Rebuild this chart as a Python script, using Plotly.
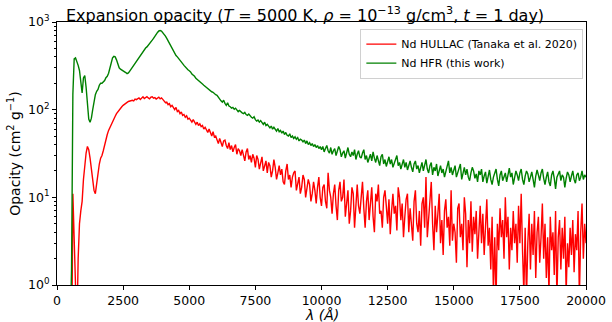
import plotly.graph_objects as go

# wavelength grid (Angstrom), 50 A spacing from 500 to 20000
lam_start = 500
lam_step = 50

# Nd HFR (this work) opacity, cm^2/g  -- 10 values per line, line start wavelength in comment
hfr = [
    0.3, 1.5, 150, 380, 390, 360, 320, 280, 200, 155,        # 500
    230, 245, 180, 110, 78, 72, 80, 100, 125, 148,           # 1000
    162, 170, 190, 200, 200, 205, 215, 232, 240, 260,        # 1500
    300, 350, 390, 405, 400, 370, 330, 300, 290, 285,        # 2000
    280, 270, 265, 258, 262, 275, 290, 305, 320, 340,        # 2500
    360, 380, 400, 420, 445, 470, 490, 505, 520, 540,        # 3000
    560, 590, 620, 650, 690, 720, 760, 790, 800, 790,        # 3500
    760, 720, 690, 650, 610, 560, 520, 490, 460, 435,        # 4000
    415, 400, 385, 370, 350, 335, 320, 305, 295, 285,        # 4500
    278, 270, 255, 248, 240, 228, 220, 214, 210, 202,        # 5000
    196, 190, 184, 178, 176, 170, 166, 160, 158, 152,        # 5500
    148, 146, 138, 130, 126, 122, 128, 118, 112, 120,        # 6000
    110, 108, 104, 106, 101, 104, 100, 95, 98, 94,           # 6500
    92, 90, 93, 88, 86, 89, 84, 82, 80, 83,                  # 7000
    77, 74, 76, 72, 75, 70, 68, 72, 66, 68,                  # 7500
    64, 62, 65, 60, 63, 59, 57, 61, 56, 58,                  # 8000
    54, 57, 52, 55, 51, 50, 53, 48, 50, 47,                  # 8500
    49, 46, 48, 44, 46, 45, 43, 45, 41, 44,                  # 9000
    40, 42, 39, 41, 38, 40, 37, 39, 36, 38,                  # 9500
    35, 38, 33, 36, 39, 34, 32, 37, 31, 34,                  # 10000
    36, 30, 33, 38, 35, 29, 32, 34, 28, 33,                  # 10500
    37, 31, 29, 33, 30, 35, 27, 31, 34, 29,                  # 11000
    28, 32, 35, 27, 30, 25, 29, 31, 26, 33,                  # 11500
    28, 25, 30, 27, 23, 29, 31, 24, 27, 22.5,                # 12000
    26, 29, 24, 27, 22, 25, 28, 30, 23, 25,                  # 12500
    21, 24, 27, 22, 25, 20.5, 23, 26, 22, 19.5,              # 13000
    24, 26, 21, 23, 19, 22, 25, 20, 24, 27,                  # 13500
    21, 19, 23, 25, 18, 22, 20, 24, 17.5, 21,                # 14000
    23, 19, 21, 17, 20, 24, 26, 19, 22, 18,                  # 14500
    20, 23, 17, 19, 21, 24, 16, 19.5, 22, 18,                # 15000
    21, 17, 15.5, 19, 22, 20, 16.5, 18.5, 15, 20,            # 15500
    18, 21, 15, 17.5, 19.5, 14.5, 18, 20.5, 16, 14,          # 16000
    17, 19, 21, 16, 13.5, 18, 20, 15.5, 17.5, 19,            # 16500
    15, 18, 21.5, 17, 19, 14, 16.5, 20, 18, 15.5,            # 17000
    19, 21, 16, 14, 17.5, 20, 18.5, 15, 17, 19.5,            # 17500
    16, 13, 17.5, 20.5, 18, 15.5, 19, 21, 16.5, 14,          # 18000
    17, 19.5, 15, 13.5, 18, 20, 16.5, 12.5, 17, 19,          # 18500
    20, 15.5, 18, 17, 13, 16.5, 19.5, 18, 15, 17.5,          # 19000
    20, 16, 14.5, 18, 19, 15.5, 17, 20, 16, 18,              # 19500
    17,                                                      # 20000
]

# Nd HULLAC (Tanaka et al. 2020) opacity, cm^2/g
hullac = [
    0.1, 0.1, 11, 4, 0.5, 0.3, 2, 5, 7, 9,                   # 500
    16, 25, 32, 38, 35, 28, 22, 16, 12, 11,                  # 1000
    15, 20, 24, 28, 30, 34, 40, 45, 52, 58,                  # 1500
    63, 68, 74, 78, 84, 90, 95, 100, 104, 108,               # 2000
    112, 116, 118, 121, 124, 125, 127, 128, 126, 132,        # 2500
    130, 134, 136, 131, 137, 140, 134, 138, 141, 136,        # 3000
    133, 139, 140, 135, 137, 132, 136, 139, 133, 136,        # 3500
    131, 126, 120, 122, 114, 117, 108, 112, 104, 100,        # 4000
    106, 95, 98, 90, 94, 86, 88, 82, 85, 78,                 # 4500
    80, 76, 72, 77, 73, 68, 72, 66, 69, 64,                  # 5000
    66, 60, 63, 58, 55, 60, 54, 50, 56, 49,                  # 5500
    50, 46, 41, 47, 43, 38, 44, 45, 39, 36,                  # 6000
    42, 35, 39, 33, 37, 40, 31, 36, 34, 30,                  # 6500
    35, 29, 26, 33, 36, 27, 30, 25, 31, 28,                  # 7000
    22, 30, 27, 21, 25, 29, 20, 24, 26, 19,                  # 7500
    25, 23, 17, 20, 27, 22, 16, 19, 23, 18,                  # 8000
    21, 15, 14, 20, 24, 16, 18, 13, 17, 19,                  # 8500
    20, 12, 15, 17, 11, 13, 18, 16, 10, 12.5,                # 9000
    16, 14, 9, 11, 15, 12, 8.5, 13, 17, 10,                  # 9500
    8, 13, 14, 9, 7.5, 19, 12, 10, 6.5, 11,                  # 10000
    14, 8, 5.5, 12, 15, 9, 10, 16, 6, 8.5,                   # 10500
    12, 5, 7, 13, 11, 4.5, 9, 14, 8, 6.5,                    # 11000
    10, 15, 7.5, 4.5, 9, 12, 5.5, 8, 13, 6,                  # 11500
    4, 11, 9, 14, 6.5, 7, 4.5, 10, 12, 8,                    # 12000
    5, 9.5, 3.8, 7, 11, 6.5, 8, 4.2, 13, 10,                 # 12500
    5.5, 8.5, 3.5, 6, 9.5, 11, 4, 7.5, 5, 3.2,               # 13000
    9, 12, 5, 4, 7, 2.8, 8.5, 10, 4.5, 17,                   # 13500
    3.5, 6, 9, 15, 5, 2.5, 8, 4, 6.5, 11,                    # 14000
    3, 5.5, 2.2, 7, 9.5, 4.5, 6, 2.8, 12, 3.2,               # 14500
    5, 4, 1.8, 7.5, 8.5, 3.5, 5, 2.5, 10, 6.5,               # 15000
    1.6, 5.5, 3, 9, 2.4, 6, 3.8, 7, 2, 4.5,                  # 15500
    8, 3, 6.5, 2.2, 5, 9.5, 2.8, 4.5, 1.5, 6,                # 16000
    0.8, 3.5, 0.7, 5, 2.5, 7.5, 3.5, 5.5, 2, 10,             # 16500
    3.5, 6, 1.5, 4.5, 2.5, 7, 3, 5, 1.8, 8,                  # 17000
    3, 11, 2.5, 0.8, 4.5, 0.7, 3, 6.5, 1.5, 5,               # 17500
    2.2, 7, 1.2, 4, 6, 1.8, 3.5, 8.5, 2, 5,                  # 18000
    1.2, 3.5, 0.8, 6, 2.5, 4, 1.3, 7, 0.7, 3.5,              # 18500
    5.5, 1.5, 4.5, 2, 6, 0.8, 3, 1.6, 4.5, 2.2,              # 19000
    5.5, 1.4, 3.8, 2.5, 7, 0.7, 4, 8.5, 2, 5,                # 19500
    3,                                                       # 20000
]

lam_hfr = [lam_start + lam_step * i for i in range(len(hfr))]
lam_hullac = [lam_start + lam_step * i for i in range(len(hullac))]

x_ticks = [0, 2500, 5000, 7500, 10000, 12500, 15000, 17500, 20000]
y_ticks = [1, 10, 100, 1000]
y_ticktext = ["10<sup>0</sup>", "10<sup>1</sup>", "10<sup>2</sup>", "10<sup>3</sup>"]
y_minor = [m * 10 ** e for e in range(0, 3) for m in range(2, 10)]

FONT = "DejaVu Sans"

fig = go.Figure()
fig.add_trace(go.Scatter(x=lam_hullac, y=hullac, mode="lines",
                         line=dict(color="#ff0000", width=1.4),
                         name="Nd HULLAC (Tanaka et al. 2020)"))
fig.add_trace(go.Scatter(x=lam_hfr, y=hfr, mode="lines",
                         line=dict(color="#008000", width=1.4),
                         name="Nd HFR (this work)"))

fig.update_layout(
    width=612, height=322,
    margin=dict(l=57, r=26, t=22, b=37),
    paper_bgcolor="white", plot_bgcolor="white",
    font=dict(family=FONT, color="black", size=12.5),
    title=dict(text="Expansion opacity (<i>T</i> = 5000 K, <i>ρ</i> = 10<sup>−13</sup> g/cm<sup>3</sup>, <i>t</i> = 1 day)",
               x=305 / 612, xanchor="center", y=1 - 15 / 322, yanchor="middle",
               font=dict(size=16, family=FONT)),
    legend=dict(x=0.995, xanchor="right", y=0.975, yanchor="top",
                bgcolor="rgba(255,255,255,0.85)", bordercolor="#d0d0d0", borderwidth=1,
                font=dict(size=11, family=FONT), itemwidth=30,
                tracegroupgap=0),
    showlegend=True,
    annotations=[dict(text="<i>λ (Å)</i>", xref="paper", yref="paper", x=0.5, y=-(315 - 285) / 263,
                      xanchor="center", yanchor="middle", showarrow=False,
                      font=dict(size=14, family=FONT, color="black"))],
)

fig.update_xaxes(range=[0, 20000], tickvals=x_ticks, ticktext=[str(v) for v in x_ticks],
                 ticks="outside", ticklen=4, tickcolor="black", showgrid=False, zeroline=False,
                 showline=True, linecolor="black", linewidth=1, mirror=True, automargin=False,
                 tickfont=dict(size=12.5))
fig.update_yaxes(type="log", range=[0, 3], tickvals=y_ticks, ticktext=y_ticktext,
                 ticks="outside", ticklen=4, tickcolor="black", showgrid=False, zeroline=False,
                 showline=True, linecolor="black", linewidth=1, mirror=True, automargin=False,
                 tickfont=dict(size=12.5),
                 minor=dict(tickvals=y_minor, ticks="outside", ticklen=2, tickcolor="black", showgrid=False),
                 title=dict(text="Opacity (cm<sup>2</sup> g<sup>−1</sup>)", font=dict(size=14), standoff=4))

fig.write_html("out.html")
